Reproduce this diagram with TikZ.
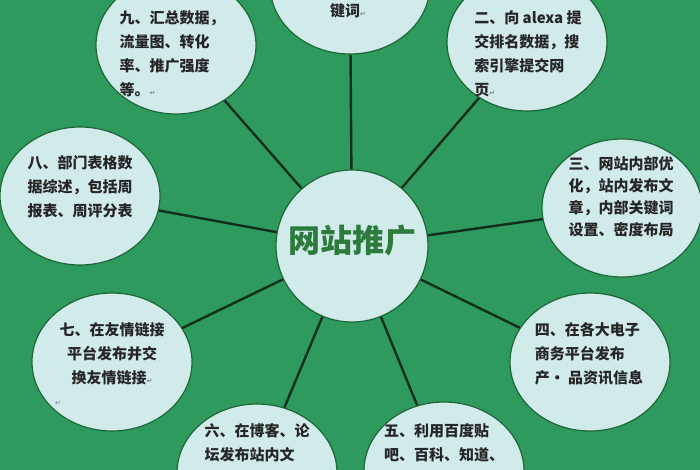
\documentclass[tikz,border=0pt]{standalone}
\usepackage{fontspec}
\setmainfont{Noto Sans CJK SC}
\newfontfamily\markfont{DejaVu Sans}
\usetikzlibrary{shapes.geometric}
\definecolor{bggreen}{HTML}{2E9A5E}
\definecolor{bubblefill}{HTML}{D0EBEA}
\definecolor{rimgreen}{HTML}{1E6638}
\definecolor{spokecol}{HTML}{132E1B}
\definecolor{hubtext}{HTML}{2C7A3C}
\newcommand{\pmark}{{\markfont\fontsize{7}{7}\selectfont\textcolor{gray}{↵}}}
\tikzset{
  bubble/.style={ellipse, draw=rimgreen, line width=1.2pt, fill=bubblefill,
    minimum width=160pt, minimum height=138pt, inner sep=0pt},
  words/.style={font=\bfseries\fontsize{15}{24}\selectfont, align=left,
    text=black!85, inner sep=0pt},
  link/.style={draw=spokecol, line width=2.4pt},
}
\begin{document}
\begin{tikzpicture}[x=1pt,y=-1pt]
  \fill[bggreen] (0,0) rectangle (700,470);
  \useasboundingbox (0,0) rectangle (700,470);
  \clip (0,0) rectangle (700,470);
  % bubbles
  \node[bubble] (top) at (350,-15) {};
  \node[bubble] (nine) at (176,45) {};
  \node[bubble] (two) at (527,42) {};
  \node[bubble] (eight) at (80,196) {};
  \node[bubble] (three) at (622,208) {};
  \node[bubble] (seven) at (112,362) {};
  \node[bubble] (four) at (590,362) {};
  \node[bubble] (six) at (257,473) {};
  \node[bubble] (five) at (444,471) {};
  \node[bubble, minimum width=152pt, minimum height=152pt] (hub) at (352,246) {};
  % spokes
  \foreach \leaf in {top,nine,two,eight,three,seven,four,six,five}
    \draw[link] (hub) -- (\leaf);
  % texts
  \node[words] (toptext) at (348,11) {键词\pmark};
  \node[words] (ninetext) at (172,54) {九、汇总数据，\\流量图、转化\\率、推广强度\\等。\pmark};
  \node[words] (twotext) at (528,54) {二、向 alexa 提\\交排名数据，搜\\索引擎提交网\\页\pmark};
  \node[words] (eighttext) at (80,187) {八、部门表格数\\据综述，包括周\\报表、周评分表};
  \node[words, font=\bfseries\fontsize{15}{22}\selectfont] (threetext) at (621,197) {三、网站内部优\\化，站内发布文\\章，内部关键词\\设置、密度布局};
  \node[words, align=center] (seventext) at (112,354) {七、在友情链接\\平台发布并交\\换友情链接\pmark};
  \node (sevenmark) at (58,403) {\pmark};
  \node[words] (fourtext) at (589,354) {四、在各大电子\\商务平台发布\\产·\ 品资讯信息};
  \node[words, anchor=north] (sixtext) at (257,423) {六、在博客、论\\坛发布站内文};
  \node[words, anchor=north] (fivetext) at (444,423) {五、利用百度贴\\吧、百科、知道、};
  \node[font=\bfseries\fontsize{32}{32}\selectfont, text=hubtext] (hubtext) at (352,240) {网站推广};
\end{tikzpicture}
\end{document}
